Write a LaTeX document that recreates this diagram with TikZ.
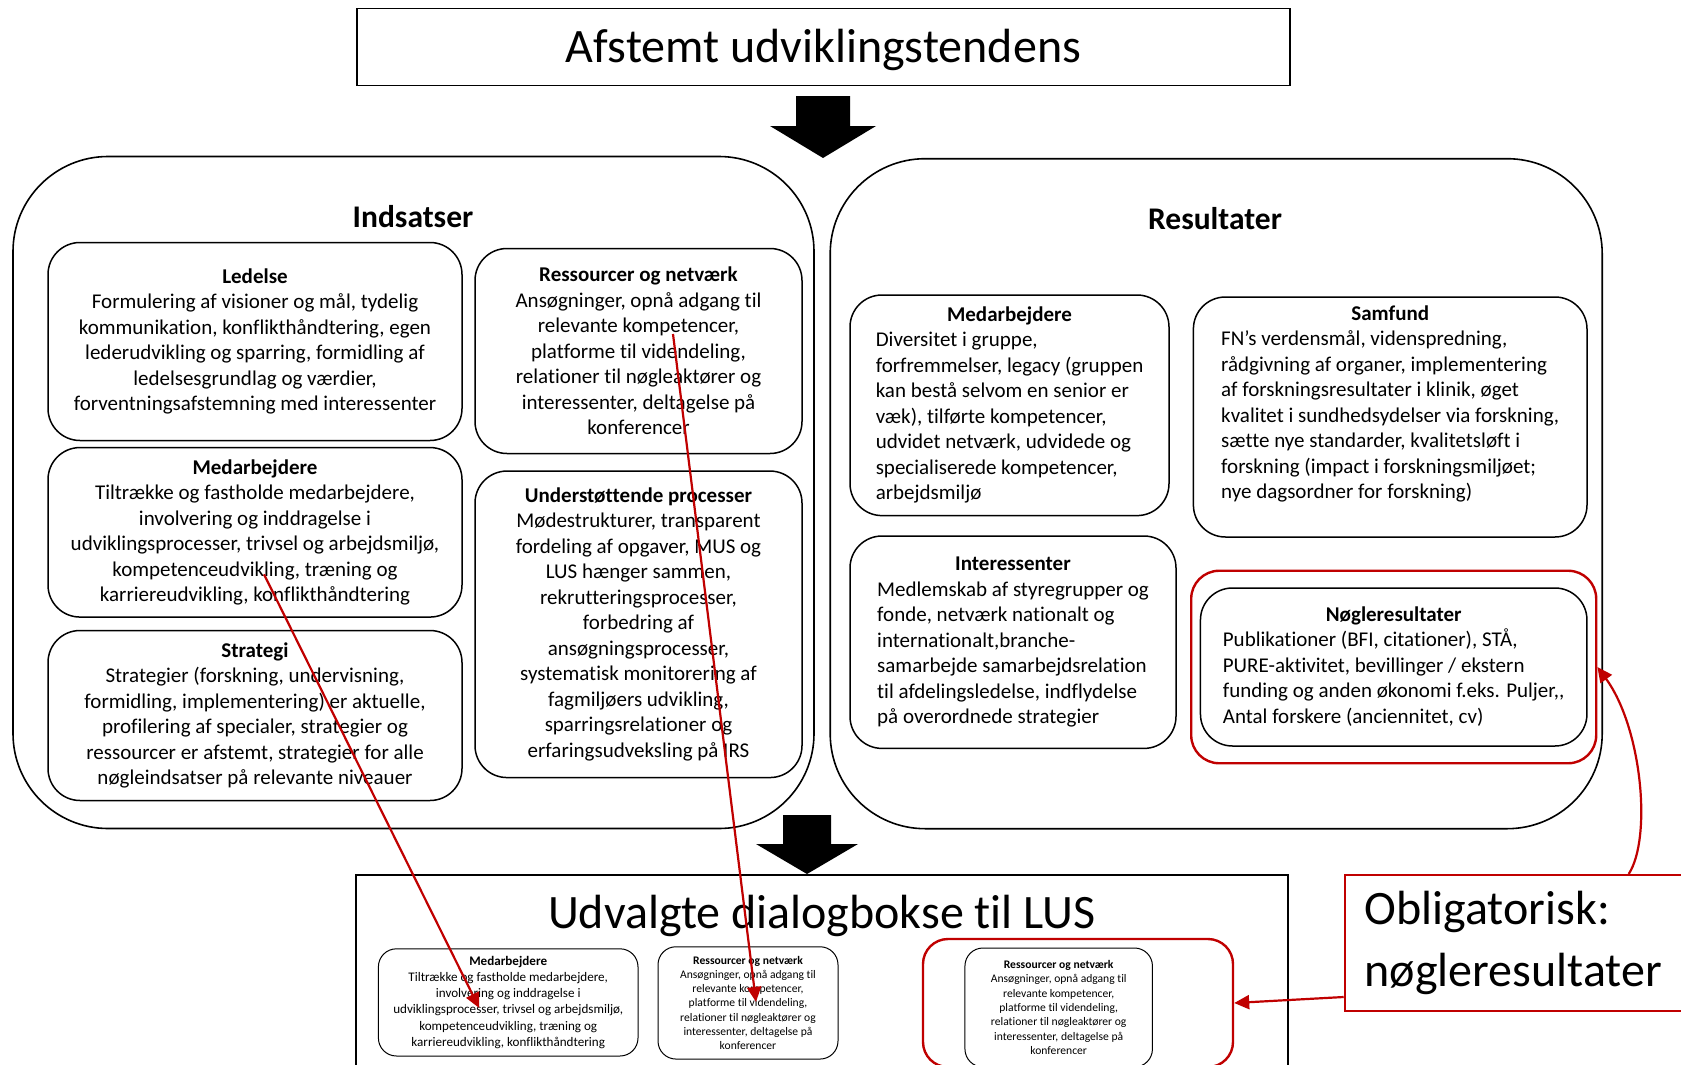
\documentclass[tikz,border=0pt]{standalone}
\usepackage{fontspec}
\setmainfont{Carlito}[Ligatures={TeX,NoCommon}]
\usetikzlibrary{positioning, fit, arrows.meta, calc}
\definecolor{lusred}{HTML}{C00000}
\newcommand{\rlist}[2]{\begin{tabular}{@{}l@{}}\multicolumn{1}{@{}c@{}}{\textbf{#1}}\\#2\end{tabular}}

\begin{document}
\begin{tikzpicture}[x=1pt, y=-1pt,
    basecard/.style={draw, fill=white, rounded corners=32pt, line width=1.5pt, inner sep=0pt, font=\fontsize{21}{25.5}\selectfont},
    card/.style={basecard, align=center},
    minicard/.style={draw, fill=white, rounded corners=18pt, line width=1pt, inner sep=0pt, align=center},
    panel/.style={draw, rounded corners=95pt, line width=1.6pt},
    plainbox/.style={draw, line width=1.6pt, inner sep=0pt},
    paneltitle/.style={font=\fontsize{31.5}{38}\selectfont\bfseries},
    bigtxt/.style={font=\fontsize{48}{58}\selectfont},
    redbox/.style={draw=lusred, line width=2.4pt, rounded corners=28pt},
    redarr/.style={-{Triangle[length=15pt, width=14pt]}, draw=lusred, line width=2.2pt},
  ]
    \fill[white] (0,0) rectangle (1681,1065);
    \useasboundingbox (0,0) rectangle (1681,1065);

    % top
    \node[plainbox, bigtxt, text height=40pt, minimum width=933pt, minimum height=77pt] (trend) at (823.5,47) {Afstemt udviklingstendens};
    \fill (796,96) -- (850,96) -- (850,126) -- (876,126) -- (823,158) -- (770,126) -- (796,126) -- cycle;

    % panels
    \node[panel, minimum width=801pt, minimum height=672pt] (indsatser) at (413.5,492.5) {};
    \node[panel, minimum width=772pt, minimum height=670pt] (resultater) at (1216.2,493.7) {};
    \node[paneltitle] (ind-title) at (413,217) {Indsatser};
    \node[paneltitle] (res-title) at (1215,219) {Resultater};

    % indsatser
    \node[card, minimum width=414pt, minimum height=198pt] (ledelse) at (255,341.5)
      {\textbf{Ledelse}\\Formulering af visioner og mål, tydelig\\kommunikation, konflikthåndtering, egen\\lederudvikling og sparring, formidling af\\ledelsesgrundlag og værdier,\\forventningsafstemning med interessenter};
    \node[card, minimum width=414pt, minimum height=169.5pt] (medind) at (255,532.3)
      {\textbf{Medarbejdere}\\Tiltrække og fastholde medarbejdere,\\involvering og inddragelse i\\udviklingsprocesser, trivsel og arbejdsmiljø,\\kompetenceudvikling, træning og\\karriereudvikling, konflikthåndtering};
    \node[card, minimum width=414pt, minimum height=170pt] (strategi) at (255,715.5)
      {\textbf{Strategi}\\Strategier (forskning, undervisning,\\formidling, implementering) er aktuelle,\\profilering af specialer, strategier og\\ressourcer er afstemt, strategier for alle\\nøgleindsatser på relevante niveauer};
    \node[card, minimum width=327pt, minimum height=205pt] (ressourcer) at (638.5,351)
      {\textbf{Ressourcer og netværk}\\Ansøgninger, opnå adgang til\\relevante kompetencer,\\platforme til videndeling,\\relationer til nøgleaktører og\\interessenter, deltagelse på\\konferencer};
    \node[card, minimum width=327pt, minimum height=306.5pt] (processer) at (638.5,624.3)
      {\textbf{Understøttende processer}\\Mødestrukturer, transparent\\fordeling af opgaver, MUS og\\LUS hænger sammen,\\rekrutteringsprocesser,\\forbedring af\\ansøgningsprocesser,\\systematisk monitorering af\\fagmiljøers udvikling,\\sparringsrelationer og\\erfaringsudveksling på IRS};

    % resultater
    \node[basecard, minimum width=319pt, minimum height=220.6pt] (medres) at (1009.5,405.3)
      {\rlist{Medarbejdere}{Diversitet i gruppe,\\forfremmelser, legacy (gruppen\\kan bestå selvom en senior er\\væk), tilførte kompetencer,\\udvidet netværk, udvidede og\\specialiserede kompetencer,\\arbejdsmiljø}};
    \node[basecard, minimum width=393.6pt, minimum height=240pt] (samfund) at (1390.2,417)
      {\rlist{Samfund}{FN’s verdensmål, videnspredning,\\rådgivning af organer, implementering\\af forskningsresultater i klinik, øget\\kvalitet i sundhedsydelser via forskning,\\sætte nye standarder, kvalitetsløft i\\forskning (impact i forskningsmiljøet;\\nye dagsordner for forskning)\\ \mbox{}}};
    \node[basecard, minimum width=326pt, minimum height=212.4pt] (interessenter) at (1013,642.2)
      {\rlist{Interessenter}{Medlemskab af styregrupper og\\fonde, netværk nationalt og\\internationalt,branche-\\samarbejde samarbejdsrelation\\til afdelingsledelse, indflydelse\\på overordnede strategier}};
    \node[basecard, minimum width=386.5pt, minimum height=158pt] (noegle) at (1393.7,667)
      {\rlist{Nøgleresultater}{Publikationer (BFI, citationer), STÅ,\\PURE-aktivitet, bevillinger / ekstern\\funding og anden økonomi f.eks. Puljer,{},\\Antal forskere (anciennitet, cv)}};
    \node[redbox, fit=(noegle), inner xsep=8.5pt, inner ysep=16.5pt] (noegleframe) {};

    % bottom
    \fill (783,815) -- (831,815) -- (831,844) -- (858,844) -- (807,874) -- (756,844) -- (783,844) -- cycle;
    \node[plainbox, minimum width=932pt, minimum height=230pt] (lus) at (822,990) {};
    \node[bigtxt] (lus-title) at (822,916) {Udvalgte dialogbokse til LUS};
    \node[minicard, minimum width=259.6pt, minimum height=107.2pt, font=\fontsize{13.1}{16.1}\selectfont] (mini-med) at (508.2,1002.4)
      {\textbf{Medarbejdere}\\Tiltrække og fastholde medarbejdere,\\involvering og inddragelse i\\udviklingsprocesser, trivsel og arbejdsmiljø,\\kompetenceudvikling, træning og\\karriereudvikling, konflikthåndtering};
    \node[minicard, minimum width=180pt, minimum height=112.3pt, font=\fontsize{11.6}{14.3}\selectfont] (mini-res) at (748,1002.9)
      {\textbf{Ressourcer og netværk}\\Ansøgninger, opnå adgang til\\relevante kompetencer,\\platforme til videndeling,\\relationer til nøgleaktører og\\interessenter, deltagelse på\\konferencer};
    \node[redbox, rounded corners=25pt, minimum width=310pt, minimum height=128pt] (redbot) at (1078,1003) {};
    \node[minicard, minimum width=187.5pt, minimum height=119pt, font=\fontsize{11.6}{14.3}\selectfont] (mini-key) at (1058.7,1007.5)
      {\textbf{Ressourcer og netværk}\\Ansøgninger, opnå adgang til\\relevante kompetencer,\\platforme til videndeling,\\relationer til nøgleaktører og\\interessenter, deltagelse på\\konferencer};

    % callout
    \node[draw=lusred, fill=white, line width=2pt, bigtxt, align=left, text width=330pt, inner xsep=20pt, inner ysep=0pt, minimum height=136pt, anchor=west] (callout) at (1343.7,943)
      {Obligatorisk:\\[4pt]nøgleresultater};

    % red connectors
    \coordinate (med-src) at ($(medind.center)+(9,42)$);
    \coordinate (med-dst) at ($(mini-med.center)+(-29,5.6)$);
    \coordinate (res-src) at ($(ressourcer.center)+(34.5,-17)$);
    \coordinate (res-dst) at ($(mini-res.center)+(8,-1)$);
    \coordinate (callout-top) at ($(callout.north west)+(285,0)$);
    \coordinate (callout-left) at ($(callout.south west)+(0,-15)$);
    \draw[redarr] (med-src) -- (med-dst);
    \draw[redarr] (res-src) -- (res-dst);
    \draw[redarr] (callout-top) .. controls (1652,838) and (1642,728) .. (noegleframe.east);
    \draw[redarr] (callout-left) -- (redbot.east);
\end{tikzpicture}
\end{document}
